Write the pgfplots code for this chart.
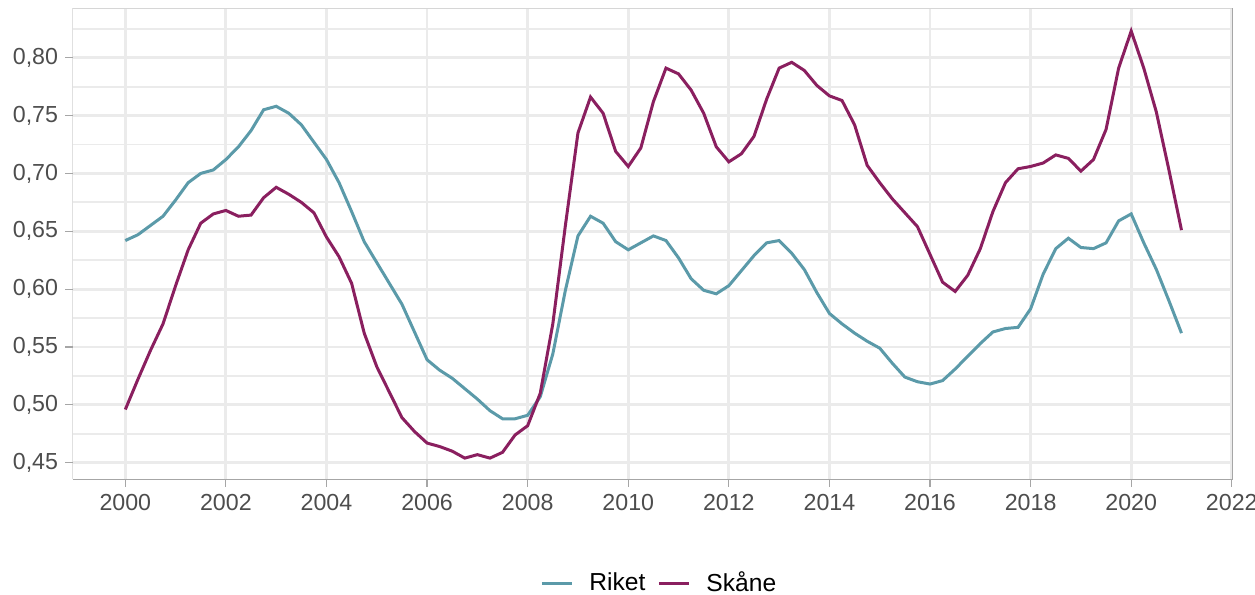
\documentclass[border=0pt]{standalone}
\usepackage{fontspec}
\setmainfont{Liberation Sans}
\usepackage{pgfplots}
\usepackage{pgfplotstable}
\pgfplotsset{compat=1.18}
\definecolor{riket}{HTML}{5B9AA9}
\definecolor{skane}{HTML}{8A1F5F}
\definecolor{gridc}{HTML}{EBEBEB}
\definecolor{ticklab}{HTML}{4D4D4D}
\definecolor{axc}{HTML}{A6A6A6}

\pgfplotstableread{
x y
2000 0.642
2000.25 0.647
2000.5 0.655
2000.75 0.663
2001 0.677
2001.25 0.692
2001.5 0.700
2001.75 0.703
2002 0.712
2002.25 0.723
2002.5 0.737
2002.75 0.755
2003 0.758
2003.25 0.752
2003.5 0.742
2003.75 0.727
2004 0.712
2004.25 0.692
2004.5 0.667
2004.75 0.641
2005 0.623
2005.25 0.605
2005.5 0.587
2005.75 0.563
2006 0.539
2006.25 0.530
2006.5 0.523
2006.75 0.514
2007 0.505
2007.25 0.495
2007.5 0.488
2007.75 0.488
2008 0.491
2008.25 0.507
2008.5 0.544
2008.75 0.599
2009 0.646
2009.25 0.663
2009.5 0.657
2009.75 0.641
2010 0.634
2010.25 0.640
2010.5 0.646
2010.75 0.642
2011 0.627
2011.25 0.609
2011.5 0.599
2011.75 0.596
2012 0.603
2012.25 0.616
2012.5 0.629
2012.75 0.640
2013 0.642
2013.25 0.631
2013.5 0.617
2013.75 0.597
2014 0.579
2014.25 0.570
2014.5 0.562
2014.75 0.555
2015 0.549
2015.25 0.536
2015.5 0.524
2015.75 0.520
2016 0.518
2016.25 0.521
2016.5 0.531
2016.75 0.542
2017 0.553
2017.25 0.563
2017.5 0.566
2017.75 0.567
2018 0.583
2018.25 0.613
2018.5 0.635
2018.75 0.644
2019 0.636
2019.25 0.635
2019.5 0.640
2019.75 0.659
2020 0.665
2020.25 0.640
2020.5 0.617
2020.75 0.590
2021 0.562
}\riket

\pgfplotstableread{
x y
2000 0.496
2000.25 0.522
2000.5 0.547
2000.75 0.570
2001 0.603
2001.25 0.634
2001.5 0.657
2001.75 0.665
2002 0.668
2002.25 0.663
2002.5 0.664
2002.75 0.679
2003 0.688
2003.25 0.682
2003.5 0.675
2003.75 0.666
2004 0.645
2004.25 0.628
2004.5 0.605
2004.75 0.562
2005 0.533
2005.25 0.511
2005.5 0.489
2005.75 0.477
2006 0.467
2006.25 0.464
2006.5 0.460
2006.75 0.454
2007 0.457
2007.25 0.454
2007.5 0.459
2007.75 0.474
2008 0.482
2008.25 0.510
2008.5 0.570
2008.75 0.655
2009 0.735
2009.25 0.766
2009.5 0.752
2009.75 0.719
2010 0.706
2010.25 0.722
2010.5 0.762
2010.75 0.791
2011 0.786
2011.25 0.772
2011.5 0.752
2011.75 0.723
2012 0.710
2012.25 0.717
2012.5 0.732
2012.75 0.764
2013 0.791
2013.25 0.796
2013.5 0.789
2013.75 0.776
2014 0.767
2014.25 0.763
2014.5 0.742
2014.75 0.707
2015 0.692
2015.25 0.678
2015.5 0.666
2015.75 0.654
2016 0.630
2016.25 0.606
2016.5 0.598
2016.75 0.612
2017 0.635
2017.25 0.667
2017.5 0.692
2017.75 0.704
2018 0.706
2018.25 0.709
2018.5 0.716
2018.75 0.713
2019 0.702
2019.25 0.712
2019.5 0.738
2019.75 0.791
2020 0.823
2020.25 0.791
2020.5 0.753
2020.75 0.703
2021 0.651
}\skane

\begin{document}
\begin{tikzpicture}
\useasboundingbox (-36.35pt,-57.85pt) rectangle (591.15pt,239.65pt);
\begin{axis}[
  scale only axis,
  width=580.05pt, height=235.4pt,
  xmin=1998.954, xmax=2022.02,
  ymin=0.4357, ymax=0.8425,
  xtick={2000,2002,...,2022},
  minor x tick num=1,
  ytick={0.45,0.50,...,0.801},
  minor ytick={0.475,0.525,...,0.83},
  grid=both,
  major grid style={gridc, line width=1.4pt},
  minor grid style={gridc, line width=0.9pt},
  axis line style={draw=none},
  tick align=outside,
  major tick length=3.8pt,
  minor tick length=0pt,
  tick style={axc, line width=0.6pt},
  xtick pos=lower, ytick pos=left,
  xticklabel style={font=\fontsize{11.6}{13}\selectfont, text=ticklab,
    /pgf/number format/1000 sep={}},
  yticklabel style={font=\fontsize{11.6}{13}\selectfont, text=ticklab,
    /pgf/number format/.cd, fixed, fixed zerofill, precision=2, use comma},
  /pgf/number format/assume math mode=true,
  legend style={at={(0.5065,-0.221)}, anchor=center, draw=none, fill=none,
    legend columns=-1, font=\fontsize{12.3}{14}\selectfont,
    /tikz/every even column/.append style={column sep=4pt}},
  legend image code/.code={\draw[#1] (0pt,0pt) -- (15pt,0pt); \path (21pt,0pt);},
]
\addplot[riket, line width=1.5pt] table[x=x,y=y] {\riket};
\addlegendentry{Riket}
\addplot[skane, line width=1.5pt] table[x=x,y=y] {\skane};
\addlegendentry{Skåne}
\draw[gridc!70!axc, line width=0.6pt] (rel axis cs:0,1) -- (rel axis cs:1,1);
\draw[axc, line width=0.6pt] (rel axis cs:0,0) -- (rel axis cs:0,1);
\draw[axc, line width=0.6pt] (rel axis cs:0,0) -- (rel axis cs:1,0);
\draw[axc, line width=0.6pt] (rel axis cs:1,0) -- (rel axis cs:1,1);
\end{axis}
\end{tikzpicture}
\end{document}
